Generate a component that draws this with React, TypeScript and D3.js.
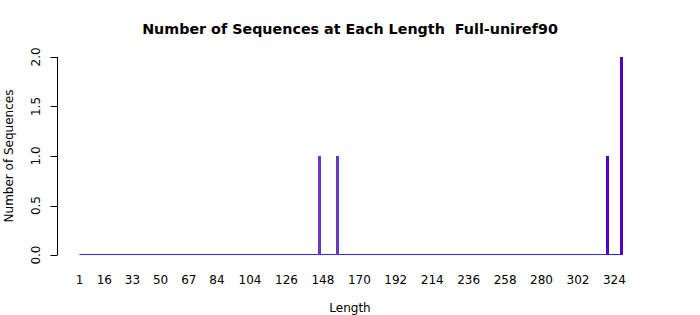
import React from "react";
import * as d3 from "d3";

const minLength = 1;
const maxLength = 328;
const spikeLengths = [146, 157, 320, 328];
const spikeCounts = [1, 1, 1, 2];
const xTickLabels = [1, 16, 33, 50, 67, 84, 104, 126, 148, 170, 192, 214, 236, 258, 280, 302, 324];
const yTicks = [0, 0.5, 1, 1.5, 2];

const W = 700;
const H = 315;
const font = "DejaVu Sans, Liberation Sans, sans-serif";

export default function App() {
  const span = maxLength - minLength;
  const x = d3
    .scaleLinear()
    .domain([minLength - 0.04 * span, maxLength + 0.04 * span])
    .range([57.8, 642.7]);
  const y = d3.scaleLinear().domain([-0.08, 2.08]).range([263, 49]);

  const spikes = spikeLengths.map((len, i) => ({ len, count: spikeCounts[i] }));
  const base = Math.round(y(0)) + 0.5;

  return (
    <svg
      width={W}
      height={H}
      style={{ position: "absolute", left: 0, top: 0, background: "#fff" }}
      fontFamily={font}
    >
      <text
        x={350}
        y={34}
        textAnchor="middle"
        fontSize={14.3}
        fontWeight="bold"
        fill="#000"
        style={{ whiteSpace: "pre" }}
      >
        {"Number of Sequences at Each Length  Full-uniref90"}
      </text>

      {/* baseline */}
      <line
        x1={x(minLength)}
        x2={x(maxLength) + 1}
        y1={base - 1}
        y2={base - 1}
        stroke="#2a2aff"
        strokeWidth={1}
      />

      {/* spikes */}
      {spikes.map((d, i) => {
        const cx = Math.floor(x(d.len)) + 0.5;
        const late = d.len > 300;
        return (
          <g key={i}>
            <line
              x1={cx}
              x2={cx}
              y1={base - 1}
              y2={y(d.count)}
              stroke={late ? "#5200c8" : "#4040ff"}
              strokeWidth={3}
              shapeRendering="crispEdges"
            />
            <line
              x1={cx}
              x2={cx}
              y1={base - 1}
              y2={y(d.count)}
              stroke={late ? "#5a00bc" : "#c8205a"}
              strokeWidth={0.8}
            />
          </g>
        );
      })}

      {/* y axis */}
      <line x1={57.5} x2={57.5} y1={y(0)} y2={y(2)} stroke="#000" strokeWidth={1} />
      {yTicks.map((t) => (
        <g key={t}>
          <line x1={50.5} x2={57.5} y1={Math.round(y(t)) + 0.5} y2={Math.round(y(t)) + 0.5} stroke="#000" />
          <text
            transform={`translate(${40},${y(t)}) rotate(-90)`}
            textAnchor="middle"
            fontSize={12}
            fill="#000"
          >
            {t.toFixed(1)}
          </text>
        </g>
      ))}

      {/* x labels */}
      {xTickLabels.map((t) => (
        <text key={t} x={x(t)} y={284} textAnchor="middle" fontSize={12} fill="#000">
          {t}
        </text>
      ))}

      <text x={350} y={312} textAnchor="middle" fontSize={12} fill="#000">
        Length
      </text>
      <text
        transform={`translate(13,${(y(0) + y(2)) / 2}) rotate(-90)`}
        textAnchor="middle"
        fontSize={12}
        fill="#000"
      >
        Number of Sequences
      </text>
    </svg>
  );
}
